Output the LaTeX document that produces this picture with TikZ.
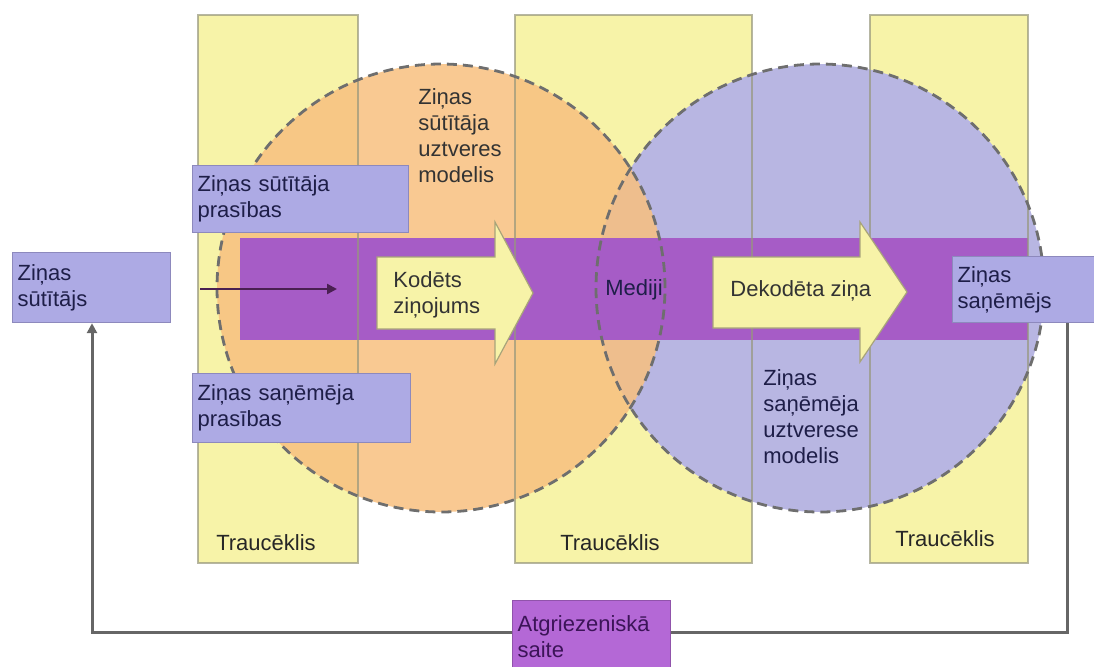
\documentclass[tikz,border=0pt]{standalone}
\usepackage{fontspec}
\setmainfont{Liberation Sans}
\usetikzlibrary{arrows.meta}

\definecolor{noiseyellow}{HTML}{F7F3A8}
\definecolor{noiseline}{HTML}{97977C}
\definecolor{sendorange}{HTML}{F8C07F}
\definecolor{recvlav}{HTML}{B8B6E2}
\definecolor{bandpurple}{HTML}{A65CC6}
\definecolor{boxfill}{HTML}{ADAAE4}
\definecolor{boxline}{HTML}{8D89BD}
\definecolor{boxtext}{HTML}{1E1E48}
\definecolor{fbfill}{HTML}{B468D6}
\definecolor{fbtext}{HTML}{3C1458}
\definecolor{circline}{HTML}{6E6E6E}
\definecolor{flowline}{HTML}{4A2052}
\definecolor{arrowline}{HTML}{A8A47A}

\tikzset{
  infobox/.style={draw=boxline, line width=0.6pt, fill=boxfill, text=boxtext,
    align=left, anchor=north west, inner xsep=2.5pt, inner ysep=0pt},
  circlabel/.style={align=left, anchor=west, inner sep=0pt},
  blockarrow/.style={fill=noiseyellow, draw=arrowline, line width=0.6pt},
  dashcirc/.style={draw=circline, line width=1.4pt, dash pattern=on 5pt off 3pt},
  feedline/.style={draw=black!60, line width=1.5pt}
}

\begin{document}
\begin{tikzpicture}[x=0.5pt, y=-0.5pt, font=\fontsize{11}{13}\selectfont]
  \useasboundingbox (0,0) rectangle (1094,666);

  % noise strips
  \foreach \xa/\xb in {198/358, 515/752, 870/1028}
    \fill[noiseyellow] (\xa,15) rectangle (\xb,563);

  % perception circles
  \coordinate (recvc) at (820,288);
  \coordinate (sendc) at (441,288);
  \fill[recvlav] (recvc) circle[radius=112pt];
  \fill[sendorange, opacity=0.85] (sendc) circle[radius=112pt];

  % channel band
  \fill[bandpurple] (240,238) rectangle (1028,340);

  \foreach \xa/\xb/\lx/\ly/\nm in {198/358/266/543/noisea, 515/752/610/543/noiseb, 870/1028/945/539/noisec}{
    \draw[noiseline, line width=0.8pt, opacity=0.7] (\xa,15) rectangle (\xb,563);
    \node[text=black!85] (\nm) at (\lx,\ly) {Traucēklis};
  }

  \draw[dashcirc] (recvc) circle[radius=112pt];
  \draw[dashcirc] (sendc) circle[radius=112pt];

  % message arrows
  \draw[blockarrow] (377,257) -- (495,257) -- (495,222) -- (533,293)
    -- (495,364) -- (495,329) -- (377,329) -- cycle;
  \node[circlabel, text=black!80] (coded) at (393,295) {Kodēts\\ziņojums};
  \draw[blockarrow] (713,257) -- (860,257) -- (860,222) -- (907,292)
    -- (860,362) -- (860,328) -- (713,328) -- cycle;
  \node[circlabel, text=black!80] (decoded) at (730,291) {Dekodēta ziņa};

  \node[text=boxtext] (media) at (634,290) {Mediji};
  \node[circlabel, text=black!80] (sendmodel) at (418,136) {Ziņas\\sūtītāja\\uztveres\\modelis};
  \node[circlabel, text=boxtext] (recvmodel) at (763,417) {Ziņas\\saņēmēja\\uztverese\\modelis};

  % boxes
  \node[infobox, minimum width=79pt, text width=74pt, minimum height=35pt] (sender) at (12,252) {Ziņas\\sūtītājs};
  \node[infobox, minimum width=108pt, text width=103pt, minimum height=33.5pt] (sendreq) at (192,165) {Ziņas sūtītāja\\prasības};
  \node[infobox, minimum width=109pt, text width=104pt, minimum height=34.5pt] (recvreq) at (192,373) {Ziņas saņēmēja\\prasības};
  \node[infobox, minimum width=73pt, text width=68pt, minimum height=33pt] (receiver) at (952,256) {Ziņas\\saņēmējs};

  % sender into channel
  \coordinate (inA) at (200,289);
  \coordinate (inB) at (337,289);
  \draw[flowline, line width=1.2pt, -{Triangle[length=5pt,width=5pt]}] (inA) -- (inB);

  % feedback loop
  \coordinate (fbR) at (1067,632);
  \coordinate (fbL) at (92,632);
  \draw[feedline, -{Triangle[length=5pt,width=5pt]}] (fbR |- receiver.south) -- (fbR) -- (fbL) -- (fbL |- sender.south);
  \node[infobox, draw=fbfill!80!black, fill=fbfill, text=fbtext, minimum width=79pt, text width=74pt, minimum height=36pt] (feedback) at (512,600) {Atgriezeniskā\\saite};
\end{tikzpicture}
\end{document}
